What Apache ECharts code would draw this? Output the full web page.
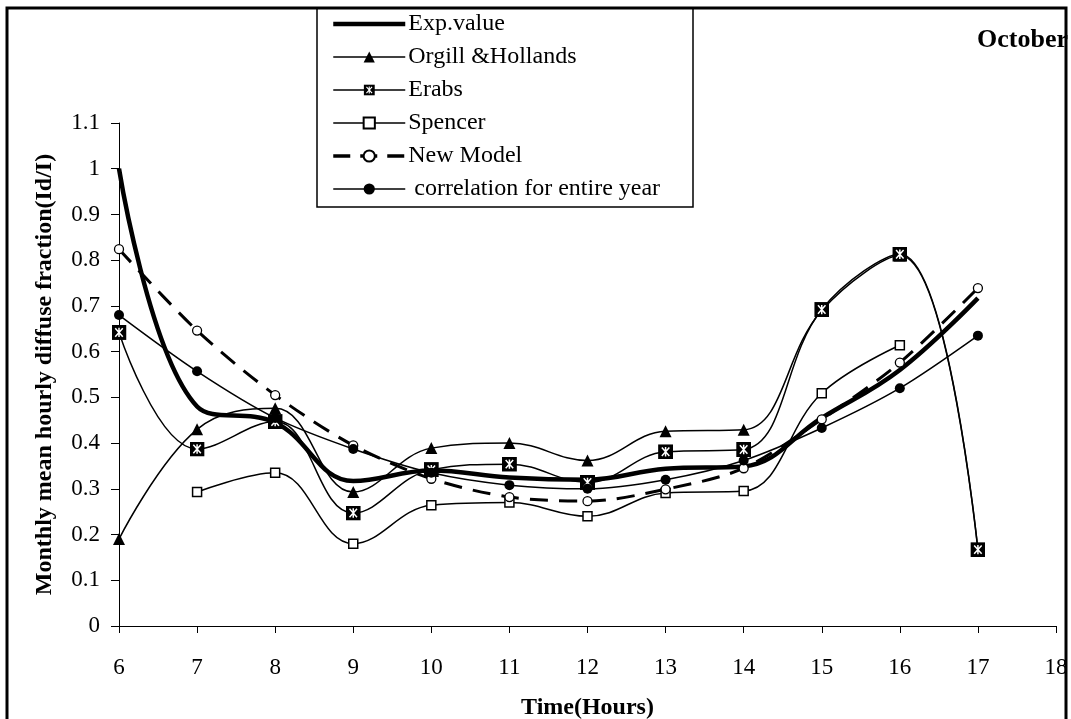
<!DOCTYPE html>
<html>
<head>
<meta charset="utf-8">
<script src="https://cdn.jsdelivr.net/npm/echarts@6/dist/echarts.min.js"></script>
<style>html,body{margin:0;padding:0;background:#fff}#c{width:1071px;height:719px}</style>
</head>
<body>
<div id="c"></div>
<script>
// ---- data ----
var hours = [6, 7, 8, 9, 10, 11, 12, 13, 14, 15, 16, 17];
var expValue    = [1.0, 0.48, 0.445, 0.317, 0.34, 0.325, 0.32, 0.344, 0.349, 0.455, 0.56, 0.717];
var orgill      = [0.19, 0.43, 0.476, 0.293, 0.389, 0.40, 0.362, 0.426, 0.429, 0.69, 0.81, 0.165];
var erabs       = [0.642, 0.387, 0.447, 0.247, 0.342, 0.354, 0.314, 0.381, 0.386, 0.692, 0.813, 0.167];
var spencer     = [null, 0.293, 0.335, 0.18, 0.264, 0.27, 0.24, 0.291, 0.295, 0.509, 0.614, null];
var newModel    = [0.824, 0.646, 0.505, 0.395, 0.322, 0.282, 0.273, 0.299, 0.345, 0.452, 0.576, 0.739];
var correlation = [0.68, 0.557, 0.455, 0.387, 0.335, 0.308, 0.30, 0.32, 0.362, 0.433, 0.52, 0.635];
var seriesNames = ['Exp.value', 'Orgill &Hollands', 'Erabs', 'Spencer', 'New Model', ' correlation for entire year'];
var xTicks = {min: 6, max: 18, interval: 1};
var yTicks = {min: 0, max: 1.1, interval: 0.1};

function pairs(vals) {
  return hours.map(function (h, i) { return [h, vals[i]]; })
              .filter(function (d) { return d[1] != null; });
}

var erabsSvg = "<svg xmlns='http://www.w3.org/2000/svg' width='16' height='16'>" +
  "<rect width='16' height='16' fill='black'/>" +
  "<path d='M8 3V13M4 3.5L12 12.5M12 3.5L4 12.5' stroke='white' stroke-width='1.6' fill='none'/></svg>";
var erabsSymbol = 'image://data:image/svg+xml;charset=utf-8,' + encodeURIComponent(erabsSvg);

var serif = 'Liberation Serif';
var chart = echarts.init(document.getElementById('c'), null, {renderer: 'canvas'});

var option = {
  animation: false,
  backgroundColor: '#fff',
  grid: {left: 119, right: 15, top: 123, bottom: 93, containLabel: false, outerBoundsMode: 'none'},
  xAxis: {
    type: 'value', min: xTicks.min, max: xTicks.max, interval: xTicks.interval,
    name: 'Time(Hours)', nameLocation: 'middle', nameGap: 70,
    nameTextStyle: {fontFamily: serif, fontWeight: 'bold', fontSize: 24, color: '#000'},
    axisLine: {lineStyle: {color: '#000', width: 1}},
    axisTick: {show: true, length: 7, lineStyle: {color: '#000'}},
    axisLabel: {fontFamily: serif, fontSize: 23, color: '#000', margin: 30},
    splitLine: {show: false}
  },
  yAxis: {
    type: 'value', min: yTicks.min, max: yTicks.max, interval: yTicks.interval,
    name: 'Monthly mean hourly diffuse fraction(Id/I)', nameLocation: 'middle', nameGap: 62, nameRotate: 90,
    nameTextStyle: {fontFamily: serif, fontWeight: 'bold', fontSize: 24, color: '#000'},
    axisLine: {show: true, lineStyle: {color: '#000', width: 1}},
    axisTick: {show: true, length: 8, lineStyle: {color: '#000'}},
    axisLabel: {fontFamily: serif, fontSize: 23, color: '#000', margin: 19},
    splitLine: {show: false}
  },
  legend: {
    orient: 'vertical', left: 326, top: 7,
    itemWidth: 72, itemHeight: 14, itemGap: 9,
    textStyle: {fontFamily: serif, fontSize: 24, color: '#000', lineHeight: 24, padding: [0, 0, 0, -2]},
    data: [
      {name: seriesNames[0], itemStyle: {opacity: 0}, lineStyle: {width: 4.5, color: '#000'}},
      {name: seriesNames[1], lineStyle: {width: 1.5, color: '#000'}},
      {name: seriesNames[2], lineStyle: {width: 1.5, color: '#000'}},
      {name: seriesNames[3], lineStyle: {width: 1.5, color: '#000'}},
      {name: seriesNames[4], lineStyle: {width: 3.5, color: '#000', type: [17, 10]}},
      {name: seriesNames[5], lineStyle: {width: 1.5, color: '#000'}}
    ],
    selectedMode: false
  },
  graphic: [
    {type: 'rect', z: 100, silent: true, shape: {x: 317, y: 8, width: 376, height: 199},
     style: {fill: 'none', stroke: '#000', lineWidth: 1.5}},
    {type: 'text', z: 90, left: 977, top: 27,
     style: {text: 'October', font: 'bold 26px "Liberation Serif"', fill: '#000'}},
    {type: 'rect', z: 110, silent: true, shape: {x: 7, y: 8, width: 1059, height: 730},
     style: {fill: 'none', stroke: '#000', lineWidth: 3}}
  ],
  series: [
    {name: seriesNames[0], type: 'line', data: pairs(expValue), smooth: 0.4, symbol: 'none',
     lineStyle: {color: '#000', width: 4.5}, itemStyle: {color: '#000'}, z: 2},
    {name: seriesNames[1], type: 'line', data: pairs(orgill), smooth: 0.4, symbol: 'triangle', symbolSize: 12,
     lineStyle: {color: '#000', width: 1.5}, itemStyle: {color: '#000'}, z: 3},
    {name: seriesNames[2], type: 'line', data: pairs(erabs), smooth: 0.4, symbol: erabsSymbol, symbolSize: 15,
     lineStyle: {color: '#000', width: 1.5}, itemStyle: {color: '#000'}, z: 4},
    {name: seriesNames[3], type: 'line', data: pairs(spencer), smooth: 0.4, symbol: 'rect', symbolSize: 9,
     lineStyle: {color: '#000', width: 1.5}, itemStyle: {color: '#fff', borderColor: '#000', borderWidth: 1.5}, z: 5},
    {name: seriesNames[4], type: 'line', data: pairs(newModel), smooth: 0.3, symbol: 'circle', symbolSize: 9,
     lineStyle: {color: '#000', width: 3, type: [18, 11]}, itemStyle: {color: '#fff', borderColor: '#000', borderWidth: 1.3}, z: 6},
    {name: seriesNames[5], type: 'line', data: pairs(correlation), smooth: 0.3, symbol: 'circle', symbolSize: 10,
     lineStyle: {color: '#000', width: 1.5}, itemStyle: {color: '#000'}, z: 7}
  ]
};
chart.setOption(option);
</script>
</body>
</html>
